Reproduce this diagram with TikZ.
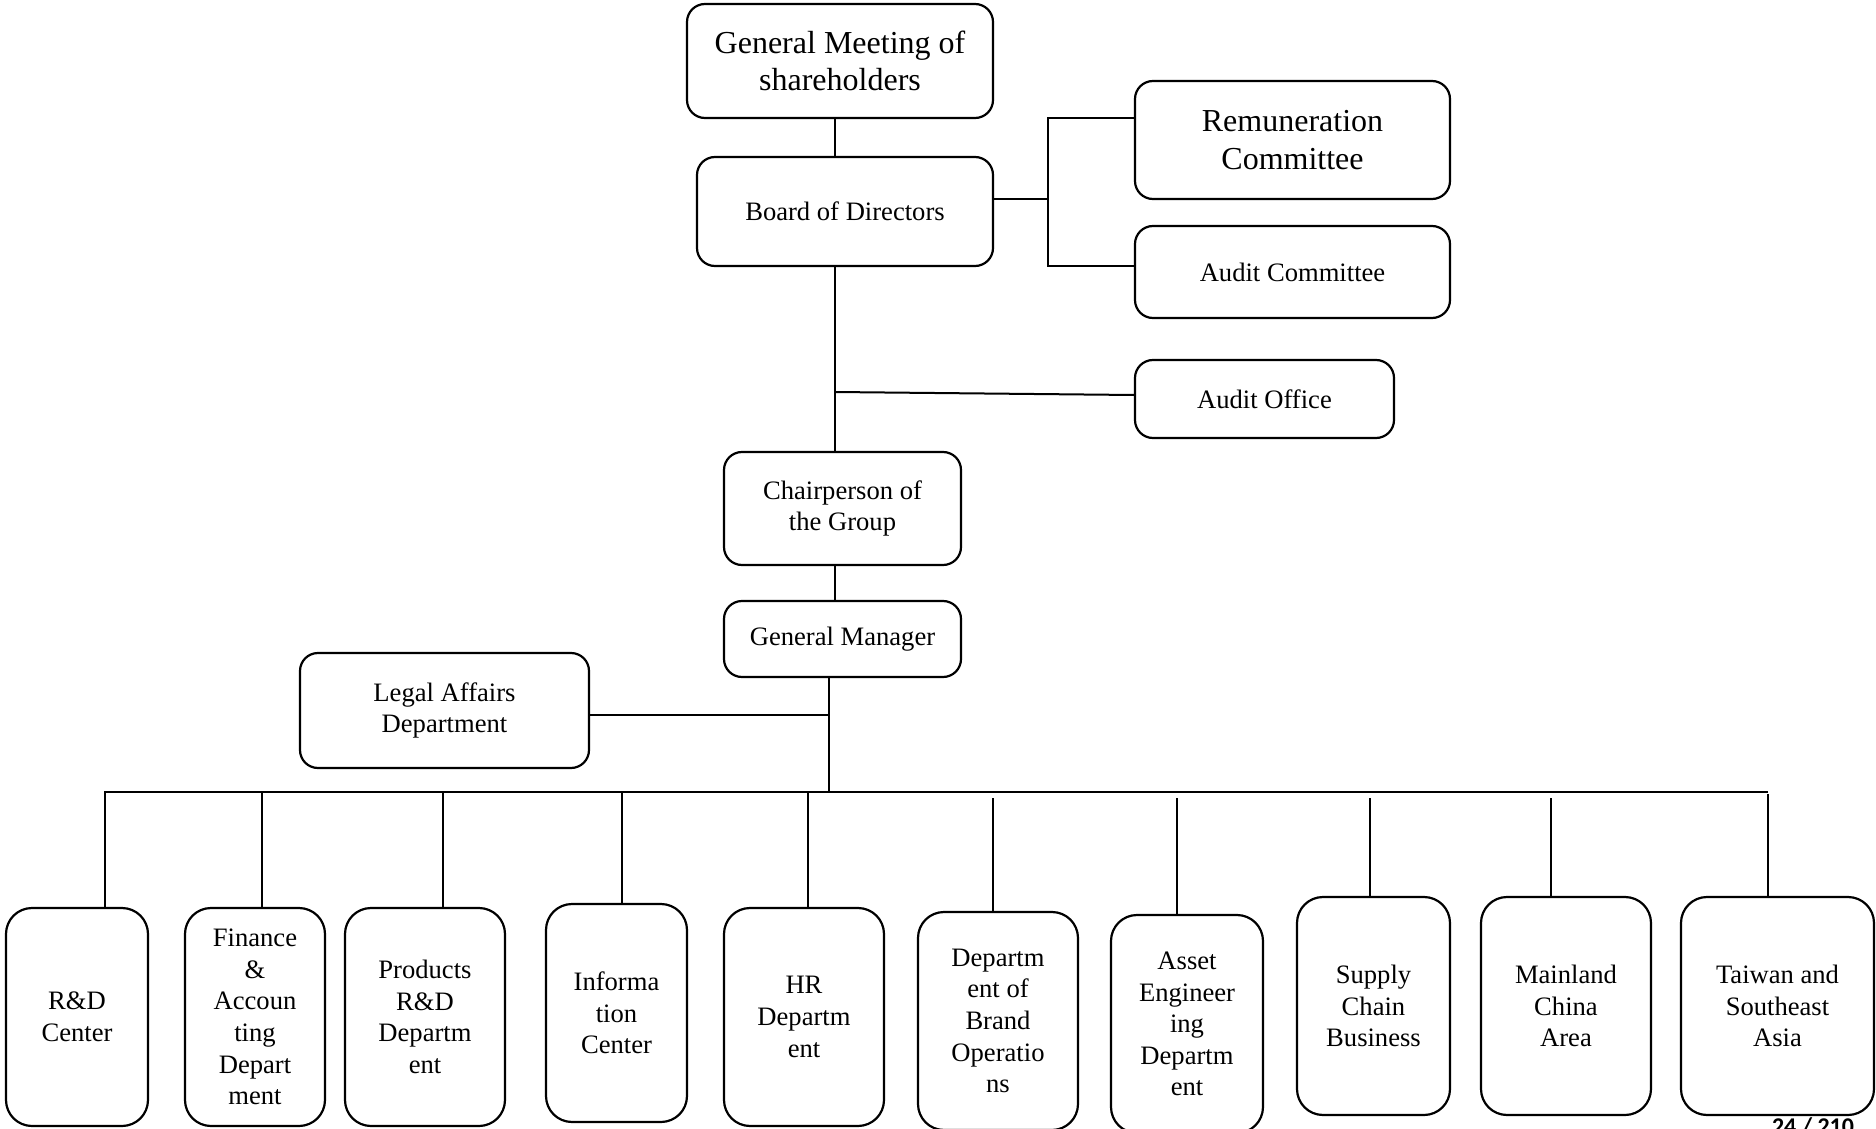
\documentclass[tikz,border=0pt]{standalone}
\usepackage{fontspec}
\setmainfont{Liberation Serif}
\newfontfamily\pagefont{Carlito}
\usetikzlibrary{calc}
\begin{document}
\begin{tikzpicture}[x=0.5pt,y=-0.5pt,
  box/.style={draw, line width=1.1pt, rounded corners=9pt, align=center, inner sep=2pt, font=\fontsize{13.3}{15.8}\selectfont},
  bigbox/.style={box, font=\fontsize{16}{18.7}\selectfont},
  unit/.style={box, rounded corners=13pt, minimum height=109pt},
  link/.style={line width=1pt}]
\useasboundingbox (0,0) rectangle (1876,1129);
\fill[white] (0,0) rectangle (1876,1129);
\clip (0,0) rectangle (1876,1129);

% top part
\node[bigbox, minimum width=153pt, minimum height=57pt] (gm) at (840,61) {General Meeting of\\shareholders};
\node[box, minimum width=148pt, minimum height=54.5pt] (board) at (845,211.5) {Board of Directors};
\node[bigbox, minimum width=157.5pt, minimum height=59pt] (remun) at (1292.5,140) {Remuneration\\Committee};
\node[box, minimum width=157.5pt, minimum height=46pt] (auditc) at (1292.5,272) {Audit Committee};
\node[box, minimum width=129.5pt, minimum height=39pt] (auditoff) at (1264.5,399) {Audit Office};
\node[box, minimum width=118.5pt, minimum height=56.5pt] (chair) at (842.5,508.5) {Chairperson of\\the Group};
\node[box, minimum width=118.5pt, minimum height=38pt] (genm) at (842.5,639) {General Manager};
\node[box, minimum width=144.5pt, minimum height=57.5pt] (legal) at (444.5,710.5) {Legal Affairs\\Department};

% bottom units
\node[unit, minimum width=71pt] (rd) at (77,1017) {R\&D\\Center};
\node[unit, minimum width=70pt] (fin) at (255,1017) {Finance\\\&\\Accoun\\ting\\Depart\\ment};
\node[unit, minimum width=80pt] (prd) at (425,1017) {Products\\R\&D\\Departm\\ent};
\node[unit, minimum width=70.5pt] (info) at (616.5,1013) {Informa\\tion\\Center};
\node[unit, minimum width=80pt] (hr) at (804,1017) {HR\\Departm\\ent};
\node[unit, minimum width=80pt] (brand) at (998,1021) {Departm\\ent of\\Brand\\Operatio\\ns};
\node[unit, minimum width=76pt] (asset) at (1187,1024) {Asset\\Engineer\\ing\\Departm\\ent};
\node[unit, minimum width=76.5pt] (supply) at (1373.5,1006) {Supply\\Chain\\Business};
\node[unit, minimum width=85pt] (mainland) at (1566,1006) {Mainland\\China\\Area};
\node[unit, minimum width=96.5pt] (taiwan) at (1777.5,1006) {Taiwan and\\Southeast\\Asia};

% connectors
\coordinate (j1) at (835,392);
\coordinate (br) at (1048,199);
\coordinate (gmb) at (829,792);
\draw[link] (gm.south -| 835,0) -- (board.north -| 835,0);
\draw[link] (board.south -| 835,0) -- (chair.north -| 835,0);
\draw[link] (j1) -- (auditoff.west |- 0,395);
\draw[link] (board.east |- br) -- (br);
\draw[link] (remun.west |- 0,118) -- (1048,118) -- (1048,266) -- (auditc.west |- 0,266);
\draw[link] (chair.south -| 835,0) -- (genm.north -| 835,0);
\draw[link] (genm.south -| gmb) -- (gmb);
\draw[link] (legal.east |- 0,715) -- (829,715);
\draw[line width=1.2pt] (104,792) -- (1768,792);
\foreach \n/\x/\y in {rd/105/792, fin/262/792, prd/443/792, info/622/792, hr/808/792, brand/993/798, asset/1177/798, supply/1370/798, mainland/1551/798, taiwan/1768/794}
  \draw[link] (\x,\y) -- (\n.north -| \x,0);

\node[font=\pagefont\bfseries\fontsize{12}{12}\selectfont, anchor=base, inner sep=0pt] (pg) at (1813,1134) {24 / 210};
\end{tikzpicture}
\end{document}
